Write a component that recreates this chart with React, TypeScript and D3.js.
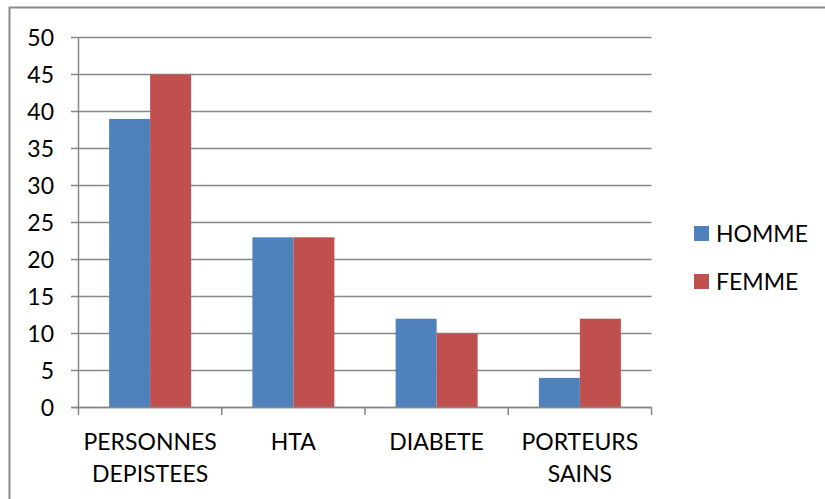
import React from 'react';
import * as d3 from 'd3';

const categories = ['PERSONNES DEPISTEES', 'HTA', 'DIABETE', 'PORTEURS SAINS'];
const homme = [39, 23, 12, 4];
const femme = [45, 23, 10, 12];
const series = ['HOMME', 'FEMME'];
const yTicks = [0, 5, 10, 15, 20, 25, 30, 35, 40, 45, 50];

const App = () => {
  const width = 825, height = 499;
  const colour: any = { HOMME: '#4F81BD', FEMME: '#C0504D' };
  const grid = '#878787';
  const font = 'Lato, "Open Sans", sans-serif';

  const x = d3.scaleBand().domain(categories).range([78.5, 651.5]);
  const y = d3.scaleLinear().domain([0, 50]).range([407.5, 37.5]);
  const barW = 41;

  const values: any = { HOMME: homme, FEMME: femme };

  return (
    <svg width={width} height={height} style={{ position: 'absolute', left: 0, top: 0 }}>
      <rect x={0} y={0} width={width} height={height} fill="white" />
      <rect x={9.5} y={7.5} width={width + 20} height={height + 20} fill="none" stroke="#8a8a8a" strokeWidth={2} />
      {/* grid + y ticks */}
      {yTicks.map(t => (
        <g key={t}>
          <line x1={71} x2={651.5} y1={y(t)} y2={y(t)} stroke={grid} strokeWidth={1.5} />
          <text x={54} y={y(t) + 8} textAnchor="end" style={{ fontFamily: font, fontSize: '23px', fill: '#000' }}>{t}</text>
        </g>
      ))}
      {/* bars */}
      {categories.map((c, i) => {
        const x0 = (x(c) as number) + x.bandwidth() / 2 - barW;
        return (
          <g key={c}>
            {series.map((s, j) => (
              <rect key={s} x={x0 + j * barW} y={y(values[s][i])} width={barW} height={y(0) - y(values[s][i])} fill={colour[s]} />
            ))}
          </g>
        );
      })}
      {/* axes */}
      <line x1={78.5} x2={78.5} y1={y(50)} y2={y(0)} stroke={grid} strokeWidth={1.5} />
      <line x1={71} x2={651.5} y1={y(0)} y2={y(0)} stroke={grid} strokeWidth={1.5} />
      {[0, 1, 2, 3, 4].map(k => {
        const px = 78.5 + k * x.step();
        return <line key={k} x1={px} x2={px} y1={y(0)} y2={415} stroke={grid} strokeWidth={1.5} />;
      })}
      {/* category labels */}
      {categories.map(c => {
        const cx = (x(c) as number) + x.bandwidth() / 2;
        const words = c.split(' ');
        return (
          <text key={c} textAnchor="middle" style={{ fontFamily: font, fontSize: '23px', fill: '#000' }}>
            {words.map((w, k) => (
              <tspan key={k} x={cx} y={450 + k * 32}>{w}</tspan>
            ))}
          </text>
        );
      })}
      {/* legend */}
      {series.map((s, j) => (
        <g key={s} transform={`translate(694, ${226 + j * 48})`}>
          <rect x={0} y={0} width={15} height={15} fill={colour[s]} />
          <text x={22} y={15.5} style={{ fontFamily: font, fontSize: '23px', fill: '#000' }}>{s}</text>
        </g>
      ))}
    </svg>
  );
};

export default App;
